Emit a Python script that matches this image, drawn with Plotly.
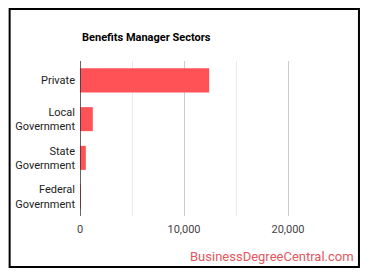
import plotly.graph_objects as go

categories = ["Private", "Local<br>Government", "State<br>Government", "Federal<br>Government"]
values = [12420, 1230, 560, 10]
tick_vals = [0, 10000, 20000]
tick_text = ["0", "10,000", "20,000"]

W, H = 370, 278
L, R, T, B = 79.5, 30, 61, 62
pw, ph = W - L - R, H - T - B

def px_x(x):
    return (x - L) / pw

def px_y(y):
    return 1 - (y - T) / ph

fig = go.Figure(go.Bar(
    x=values, y=categories, orientation="h",
    marker=dict(color="#ff5257", line=dict(width=0)),
    hoverinfo="skip",
))

fig.update_layout(
    width=W, height=H,
    margin=dict(l=L, r=R, t=T, b=B),
    paper_bgcolor="white", plot_bgcolor="white",
    font=dict(family="Roboto, Arial, sans-serif", size=11, color="#444"),
    bargap=0.38,
    showlegend=False,
    xaxis=dict(
        range=[0, 25000], tickvals=tick_vals, ticktext=tick_text,
        showgrid=True, gridcolor="#cccccc", gridwidth=1,
        minor=dict(dtick=5000, tick0=0, showgrid=True, gridcolor="#ebebeb", gridwidth=1),
        zeroline=False, showline=False, ticks="", ticklabelstandoff=5,
        tickfont=dict(size=11, color="#444"), fixedrange=True,
    ),
    yaxis=dict(
        autorange="reversed", showgrid=False, zeroline=False,
        showline=False, ticks="", ticklabelstandoff=4,
        tickfont=dict(size=11, color="#222"), fixedrange=True,
    ),
    annotations=[
        dict(text="<b>Benefits Manager Sectors</b>", xref="paper", yref="paper",
             x=px_x(79), y=px_y(37), xanchor="left", yanchor="middle",
             showarrow=False, font=dict(size=11, color="#000")),
        dict(text="BusinessDegreeCentral.com", xref="paper", yref="paper",
             x=px_x(356), y=px_y(256), xanchor="right", yanchor="middle",
             showarrow=False, font=dict(size=13, color="#e3565d")),
    ],
    shapes=[
        dict(type="rect", xref="paper", yref="paper",
             x0=px_x(9), x1=px_x(359), y0=px_y(9), y1=px_y(267),
             line=dict(color="#000", width=2), fillcolor="rgba(0,0,0,0)", layer="above"),
        dict(type="line", xref="x", yref="paper", x0=0, x1=0, y0=0, y1=1,
             line=dict(color="#333", width=1.5), layer="above"),
    ],
)

fig.write_html("out.html")
